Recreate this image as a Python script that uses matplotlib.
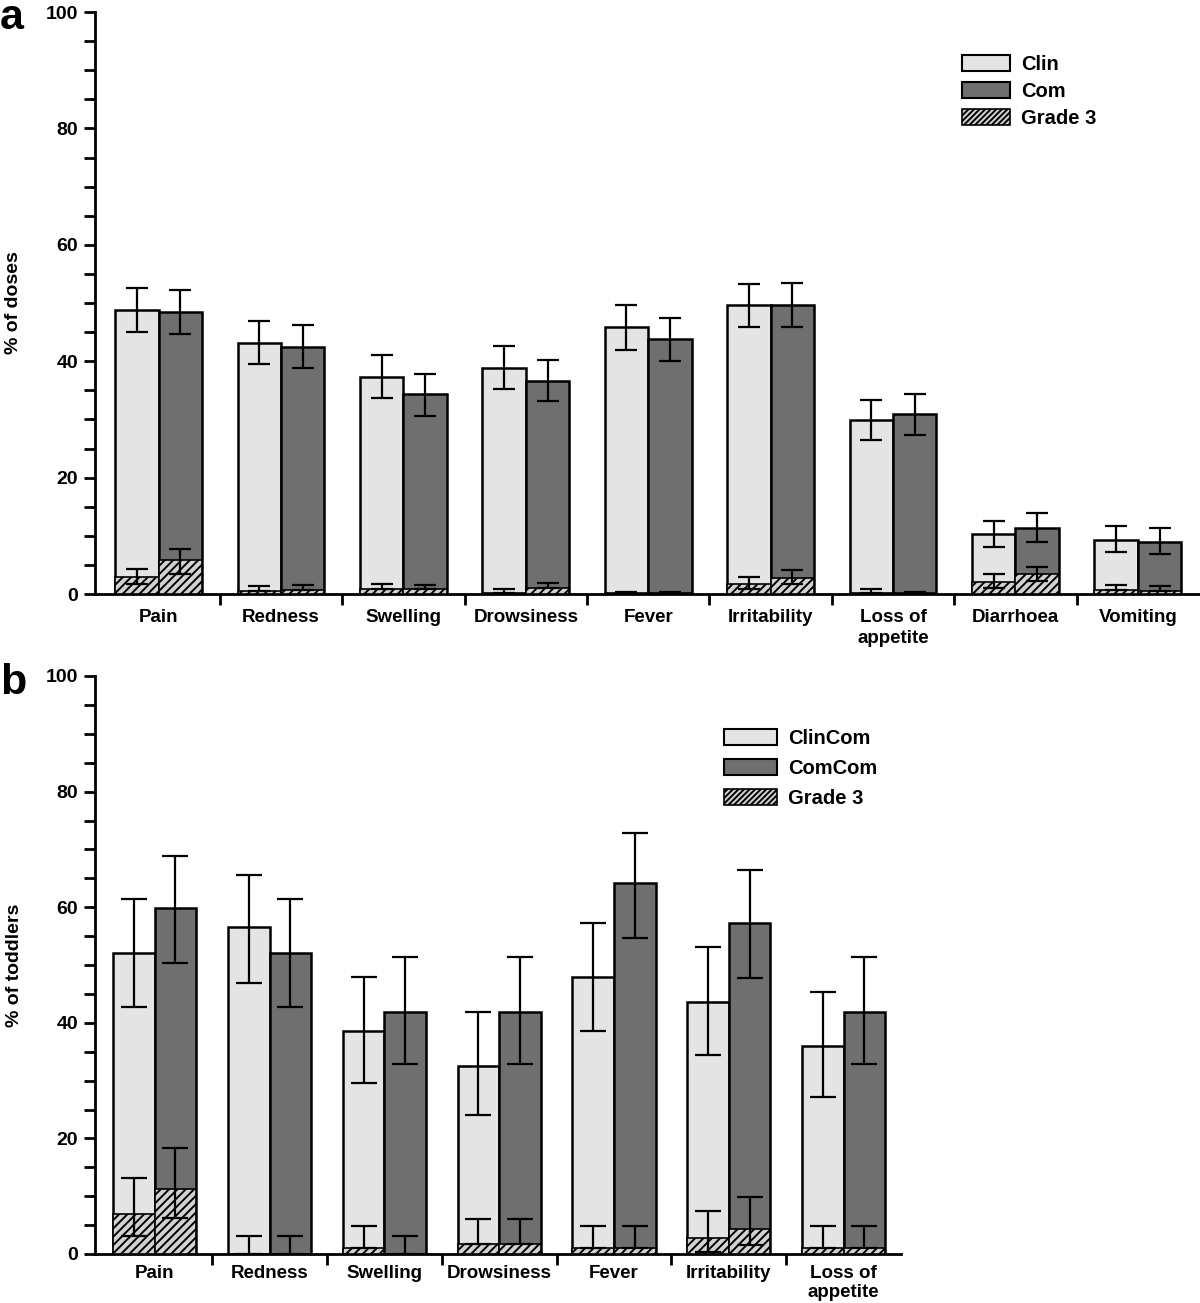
import matplotlib
matplotlib.use("Agg")
import matplotlib.pyplot as plt
import numpy as np
from matplotlib.patches import Patch
from matplotlib.ticker import MultipleLocator

plt.rcParams['font.family'] = ['Liberation Sans', 'DejaVu Sans']
plt.rcParams['font.weight'] = 'bold'
plt.rcParams['hatch.linewidth'] = 1.4

# ---------------- Panel a data ----------------
cats_a = ["Pain", "Redness", "Swelling", "Drowsiness", "Fever", "Irritability",
          "Loss of\nappetite", "Diarrhoea", "Vomiting"]
clin_a = [48.8, 43.2, 37.3, 38.9, 45.8, 49.6, 29.9, 10.3, 9.3]
clin_a_lo = [45.0, 39.5, 33.7, 35.2, 42.0, 45.8, 26.4, 8.1, 7.2]
clin_a_hi = [52.5, 46.9, 41.0, 42.6, 49.6, 53.3, 33.3, 12.6, 11.6]
com_a = [48.4, 42.5, 34.3, 36.6, 43.8, 49.7, 30.9, 11.3, 9.0]
com_a_lo = [44.7, 38.8, 30.6, 33.1, 40.0, 45.9, 27.4, 8.9, 6.9]
com_a_hi = [52.2, 46.2, 37.8, 40.2, 47.5, 53.5, 34.4, 13.9, 11.3]
g3_clin_a = [3.0, 0.5, 0.8, 0.2, 0.2, 1.8, 0.2, 2.1, 0.7]
g3_clin_a_lo = [1.8, 0.5, 0.8, 0.2, 0.2, 0.8, 0.2, 1.0, 0.7]
g3_clin_a_hi = [4.3, 1.3, 1.7, 0.8, 0.4, 3.0, 0.8, 3.4, 1.6]
g3_com_a = [5.8, 0.7, 0.8, 1.0, 0.2, 2.8, 0.2, 3.4, 0.6]
g3_com_a_lo = [3.5, 0.7, 0.8, 1.0, 0.2, 1.8, 0.2, 2.3, 0.6]
g3_com_a_hi = [7.8, 1.5, 1.5, 1.9, 0.4, 4.2, 0.3, 4.7, 1.4]

# ---------------- Panel b data ----------------
cats_b = ["Pain", "Redness", "Swelling", "Drowsiness", "Fever", "Irritability",
          "Loss of\nappetite"]
clin_b = [52.1, 56.5, 38.6, 32.5, 47.9, 43.6, 36.0]
clin_b_lo = [42.7, 46.9, 29.5, 24.1, 38.5, 34.4, 27.2]
clin_b_hi = [61.5, 65.6, 47.9, 41.8, 57.3, 53.1, 45.3]
com_b = [59.9, 52.1, 41.9, 41.9, 64.2, 57.3, 41.9]
com_b_lo = [50.4, 42.7, 32.8, 32.8, 54.7, 47.8, 32.8]
com_b_hi = [68.9, 61.5, 51.4, 51.4, 72.8, 66.4, 51.4]
g3_clin_b = [6.9, 0.0, 1.0, 1.8, 1.0, 2.7, 1.0]
g3_clin_b_lo = [3.1, 0.0, 1.0, 1.8, 1.0, 0.4, 1.0]
g3_clin_b_hi = [13.1, 3.2, 4.8, 6.1, 4.8, 7.4, 4.8]
g3_com_b = [11.2, 0.0, 0.0, 1.8, 1.0, 4.4, 1.0]
g3_com_b_lo = [6.2, 0.0, 0.0, 1.8, 1.0, 1.5, 1.0]
g3_com_b_hi = [18.3, 3.2, 3.2, 6.1, 4.8, 9.8, 4.8]

LIGHT = '#e4e4e4'
DARK = '#6f6f6f'
HATCHFILL = '#d2d2d2'

fig = plt.figure(figsize=(12, 13.03), dpi=100)


def draw_panel(ax, cats, clin, clin_lo, clin_hi, com, com_lo, com_hi,
               g1, g1_lo, g1_hi, g2, g2_lo, g2_hi, bw, capsize, names, ylabel,
               leg_anchor, handlelen, labelspacing, xpad, xls, ylab_x):
    n = len(cats)
    x = np.arange(n)
    xl = x - bw / 2
    xr = x + bw / 2
    ekw = dict(fmt='none', ecolor='black', elinewidth=1.6, capthick=1.6,
               capsize=capsize, zorder=3)
    ax.bar(xl, clin, width=bw, color=LIGHT, edgecolor='black', linewidth=1.8, zorder=2)
    ax.bar(xr, com, width=bw, color=DARK, edgecolor='black', linewidth=1.8, zorder=2)
    ax.errorbar(xl, clin, yerr=[np.array(clin) - np.array(clin_lo),
                                np.array(clin_hi) - np.array(clin)], **ekw)
    ax.errorbar(xr, com, yerr=[np.array(com) - np.array(com_lo),
                               np.array(com_hi) - np.array(com)], **ekw)
    ax.bar(xl, g1, width=bw, color=HATCHFILL, edgecolor='black', hatch='////',
           linewidth=1.2, zorder=4)
    ax.bar(xr, g2, width=bw, color=HATCHFILL, edgecolor='black', hatch='////',
           linewidth=1.2, zorder=4)
    ekw['zorder'] = 5
    ax.errorbar(xl, g1, yerr=[np.array(g1) - np.array(g1_lo),
                              np.array(g1_hi) - np.array(g1)], **ekw)
    ax.errorbar(xr, g2, yerr=[np.array(g2) - np.array(g2_lo),
                              np.array(g2_hi) - np.array(g2)], **ekw)

    ax.set_ylim(0, 100)
    ax.set_xlim(-0.52, n - 0.5)
    ax.yaxis.set_major_locator(MultipleLocator(20))
    ax.yaxis.set_minor_locator(MultipleLocator(5))
    for s in ['top', 'right']:
        ax.spines[s].set_visible(False)
    for s in ['left', 'bottom']:
        ax.spines[s].set_linewidth(2.0)
    ax.tick_params(axis='y', which='major', length=8, width=2, labelsize=14,
                   pad=4)
    ax.tick_params(axis='y', which='minor', length=8, width=2)
    for lab in ax.get_yticklabels():
        lab.set_fontweight('bold')
    # x ticks at boundaries, labels at centers
    ax.set_xticks(x[:-1] + 0.5)
    ax.set_xticklabels([])
    ax.tick_params(axis='x', which='major', length=8, width=2, direction='out')
    ax.set_xticks(x, minor=True)
    ax.set_xticklabels(cats, minor=True, fontsize=13.5, fontweight='bold',
                       linespacing=xls)
    ax.tick_params(axis='x', which='minor', length=0, pad=xpad)
    ax.set_ylabel(ylabel, fontsize=14, fontweight='bold', va='center')
    ax.yaxis.set_label_coords(ylab_x, 0.5)

    handles = [Patch(facecolor=LIGHT, edgecolor='black', linewidth=1.5, label=names[0]),
               Patch(facecolor=DARK, edgecolor='black', linewidth=1.5, label=names[1]),
               Patch(facecolor=HATCHFILL, edgecolor='black', hatch='//////',
                     linewidth=1.2, label=names[2])]
    ax.legend(handles=handles, loc='upper left', bbox_to_anchor=leg_anchor,
              bbox_transform=fig.transFigure, frameon=False,
              prop={'size': 14.5, 'weight': 'bold'}, handlelength=handlelen,
              handleheight=0.8, handletextpad=0.55, labelspacing=labelspacing,
              borderpad=0, borderaxespad=0)
    return ax


ax_a = fig.add_axes([95 / 1200, 1 - 594 / 1303, 1104 / 1200, 582 / 1303])
draw_panel(ax_a, cats_a, clin_a, clin_a_lo, clin_a_hi, com_a, com_a_lo, com_a_hi,
           g3_clin_a, g3_clin_a_lo, g3_clin_a_hi, g3_com_a, g3_com_a_lo, g3_com_a_hi,
           bw=0.355, capsize=8, names=['Clin', 'Com', 'Grade 3'],
           ylabel='% of doses', leg_anchor=(962 / 1200, 1 - 55 / 1303),
           handlelen=2.4, labelspacing=0.4, xpad=11, xls=1.28,
           ylab_x=(14 - 95) / 1104)

ax_b = fig.add_axes([95 / 1200, 1 - 1254 / 1303, 806 / 1200, 578 / 1303])
draw_panel(ax_b, cats_b, clin_b, clin_b_lo, clin_b_hi, com_b, com_b_lo, com_b_hi,
           g3_clin_b, g3_clin_b_lo, g3_clin_b_hi, g3_com_b, g3_com_b_lo, g3_com_b_hi,
           bw=0.362, capsize=9.5, names=['ClinCom', 'ComCom', 'Grade 3'],
           ylabel='% of toddlers', leg_anchor=(724 / 1200, 1 - 729 / 1303),
           handlelen=2.65, labelspacing=0.55, xpad=8, xls=1.12,
           ylab_x=(14 - 95) / 806)

fig.text(0.0, 1 - 18 / 1303, 'a', fontsize=31, fontweight='bold', va='center', ha='left')
fig.text(0.0, 1 - 683 / 1303, 'b', fontsize=31, fontweight='bold', va='center', ha='left')

fig.savefig('out.png', dpi=100)
